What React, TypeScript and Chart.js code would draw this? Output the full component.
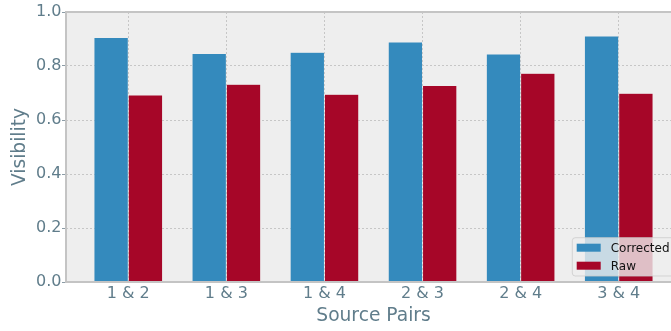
import React, { useEffect, useRef } from "react";
import { Chart, registerables } from "chart.js";

Chart.register(...registerables);

// Source pair categories and measured visibilities
const pairs: string[] = ["1 & 2", "1 & 3", "1 & 4", "2 & 3", "2 & 4", "3 & 4"];
const corrected: number[] = [0.906, 0.846, 0.851, 0.889, 0.844, 0.911];
const raw: number[] = [0.693, 0.732, 0.695, 0.728, 0.773, 0.699];
const yTicks: number[] = [0, 0.2, 0.4, 0.6, 0.8, 1.0];

const FONT = "'DejaVu Sans', 'Liberation Sans', sans-serif";
const TEXT = "#607d8b";
const BLUE = "#348ABD";
const RED = "#A60628";
const PANEL = "#eeeeee";
const SPINE = "#c4c4c4";

// Axes background behind the grid
const panelBackground = {
  id: "panelBackground",
  beforeDraw(chart: any) {
    const { ctx, chartArea } = chart;
    ctx.save();
    ctx.fillStyle = PANEL;
    ctx.fillRect(chartArea.left, chartArea.top, chartArea.right - chartArea.left, chartArea.bottom - chartArea.top);
    ctx.restore();
  },
};

// Axes frame drawn over the bars
const panelFrame = {
  id: "panelFrame",
  afterDatasetsDraw(chart: any) {
    const { ctx, chartArea } = chart;
    const { left, top, right, bottom } = chartArea;
    ctx.save();
    ctx.strokeStyle = SPINE;
    ctx.lineWidth = 2;
    ctx.beginPath();
    ctx.moveTo(right, top);
    ctx.lineTo(left, top);
    ctx.lineTo(left, bottom);
    ctx.lineTo(right, bottom);
    ctx.lineTo(right, top);
    ctx.stroke();
    ctx.restore();
  },
};

// Legend box sitting in the lower right corner of the axes
const cornerLegend = {
  id: "cornerLegend",
  afterDraw(chart: any) {
    const { ctx, chartArea } = chart;
    const pad = 6;
    const w = 102.7;
    const h = 38.3;
    const x = chartArea.right - pad - w;
    const y = chartArea.bottom - pad - h;
    const r = 3;
    ctx.save();
    ctx.beginPath();
    ctx.moveTo(x + r, y);
    ctx.lineTo(x + w - r, y);
    ctx.arcTo(x + w, y, x + w, y + r, r);
    ctx.lineTo(x + w, y + h - r);
    ctx.arcTo(x + w, y + h, x + w - r, y + h, r);
    ctx.lineTo(x + r, y + h);
    ctx.arcTo(x, y + h, x, y + h - r, r);
    ctx.lineTo(x, y + r);
    ctx.arcTo(x, y, x + r, y, r);
    ctx.closePath();
    ctx.fillStyle = "rgba(238,238,238,0.8)";
    ctx.fill();
    ctx.strokeStyle = "rgba(204,204,204,0.8)";
    ctx.lineWidth = 1;
    ctx.stroke();

    ctx.font = `12px ${FONT}`;
    ctx.textBaseline = "alphabetic";
    ctx.textAlign = "left";
    chart.data.datasets.forEach((ds: any, i: number) => {
      const rowY = y + 6 + i * 18;
      ctx.fillStyle = ds.backgroundColor;
      ctx.fillRect(x + 4.4, rowY, 24, 8);
      ctx.fillStyle = "#111111";
      ctx.fillText(ds.label, x + 38.4, rowY + 8);
    });
    ctx.restore();
  },
};

export default function App() {
  const canvasRef = useRef<HTMLCanvasElement | null>(null);

  useEffect(() => {
    const canvas = canvasRef.current;
    if (!canvas) return;

    const chart = new Chart(canvas, {
      type: "bar",
      data: {
        datasets: [
          {
            label: "Corrected",
            data: corrected.map((v, i) => ({ x: i, y: v })),
            backgroundColor: BLUE,
            borderColor: "rgba(238,238,238,0.35)",
            borderWidth: 0.5,
          },
          {
            label: "Raw",
            data: raw.map((v, i) => ({ x: i, y: v })),
            backgroundColor: RED,
            borderColor: "rgba(238,238,238,0.35)",
            borderWidth: 0.5,
          },
        ],
      },
      plugins: [panelBackground, panelFrame, cornerLegend],
      options: {
        responsive: false,
        animation: false,
        devicePixelRatio: 1,
        layout: { padding: { top: 12, left: 8.6, right: 0, bottom: 3.3 } },
        datasets: {
          bar: { categoryPercentage: 0.7, barPercentage: 1 },
        },
        plugins: {
          legend: { display: false },
          tooltip: { enabled: false },
        },
        scales: {
          x: {
            type: "linear",
            min: -0.635,
            max: 5.635,
            offset: false,
            afterBuildTicks: (axis: any) => {
              axis.ticks = pairs.map((_, i) => ({ value: i }));
            },
            afterFit: (axis: any) => {
              axis.height = 45.7;
            },
            grid: {
              offset: false,
              color: "#c6c6c6",
              lineWidth: 1,
              drawTicks: false,
            },
            border: { display: false, dash: [2, 2] },
            ticks: {
              color: TEXT,
              font: { family: FONT, size: 16, lineHeight: 1.2 },
              padding: 2.6,
              maxRotation: 0,
              autoSkip: false,
              callback: (value: any) => pairs[Math.round(Number(value))] ?? "",
            },
            title: {
              display: true,
              text: "Source Pairs",
              color: TEXT,
              font: { family: FONT, size: 18.67, lineHeight: 1.2 },
              padding: 0,
            },
          },
          y: {
            type: "linear",
            min: 0,
            max: 1,
            afterBuildTicks: (axis: any) => {
              axis.ticks = yTicks.map((v) => ({ value: v }));
            },
            afterFit: (axis: any) => {
              axis.width = 57.4;
            },
            grid: {
              color: "#c6c6c6",
              lineWidth: 1,
              drawTicks: true,
              tickLength: 4,
              tickColor: "#8c9ca6",
              tickWidth: 1,
            },
            border: { display: false, dash: [2, 2] },
            ticks: {
              color: TEXT,
              font: { family: FONT, size: 16, lineHeight: 1.2 },
              padding: 0.5,
              callback: (value: any) => Number(value).toFixed(1),
            },
            title: {
              display: true,
              text: "Visibility",
              color: TEXT,
              font: { family: FONT, size: 18.67, lineHeight: 1.2 },
              padding: 0,
            },
          },
        },
      },
    } as any);

    return () => chart.destroy();
  }, []);

  return (
    <div
      style={{
        position: "absolute",
        left: 0,
        top: 0,
        width: 671,
        height: 331,
        overflow: "hidden",
        background: "#ffffff",
      }}
    >
      <canvas ref={canvasRef} width={681} height={331} style={{ display: "block", width: 681, height: 331 }} />
    </div>
  );
}
